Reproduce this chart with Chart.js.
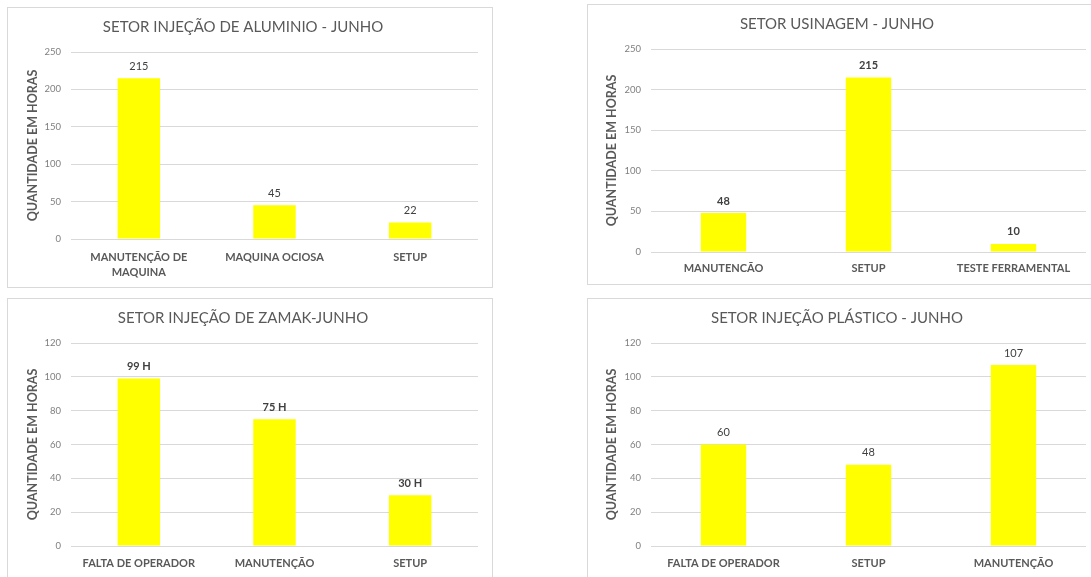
<!DOCTYPE html>
<html>
<head>
<meta charset="utf-8">
<script src="https://cdn.jsdelivr.net/npm/chart.js@4/dist/chart.umd.min.js"></script>
<style>
  html, body { margin: 0; padding: 0; background: #fff; overflow: hidden; }
  body { width: 1091px; height: 577px; position: relative; }
  .box { position: absolute; border: 1px solid #d9d9d9; box-sizing: border-box; }
  .box > div { position: absolute; left: 0; top: 0; right: 0; bottom: 0; }
</style>
</head>
<body>
<div class="box" style="left:7px; top:7px; width:486px; height:281px;"><div><canvas id="chartAluminio"></canvas></div></div>
<div class="box" style="left:587px; top:4px; width:510px; height:281px;"><div><canvas id="chartUsinagem"></canvas></div></div>
<div class="box" style="left:7px; top:298px; width:486px; height:281px;"><div><canvas id="chartZamak"></canvas></div></div>
<div class="box" style="left:587px; top:298px; width:510px; height:281px;"><div><canvas id="chartPlastico"></canvas></div></div>

<script>
// Horas paradas por setor - junho

const aluminioLabels = [['MANUTENÇÃO DE', 'MAQUINA'], 'MAQUINA OCIOSA', 'SETUP'];
const aluminioHoras = [215, 45, 22];
const aluminioTicks = [0, 50, 100, 150, 200, 250];

const usinagemLabels = ['MANUTENCÃO', 'SETUP', 'TESTE FERRAMENTAL'];
const usinagemHoras = [48, 215, 10];
const usinagemTicks = [0, 50, 100, 150, 200, 250];

const zamakLabels = ['FALTA DE OPERADOR', 'MANUTENÇÃO', 'SETUP'];
const zamakHoras = [99, 75, 30];
const zamakTicks = [0, 20, 40, 60, 80, 100, 120];

const plasticoLabels = ['FALTA DE OPERADOR', 'SETUP', 'MANUTENÇÃO'];
const plasticoHoras = [60, 48, 107];
const plasticoTicks = [0, 20, 40, 60, 80, 100, 120];

Chart.defaults.font.family = "Lato, 'Open Sans', sans-serif";

// draws the value above each bar
const valueLabels = {
    id: 'valueLabels',
    afterDatasetsDraw(chart, args, opts) {
        const ctx = chart.ctx;
        const meta = chart.getDatasetMeta(0);
        const values = chart.data.datasets[0].data;
        ctx.save();
        ctx.font = (opts.bold ? 'bold ' : '') + '11px Lato, sans-serif';
        ctx.fillStyle = '#404040';
        ctx.textAlign = 'center';
        ctx.textBaseline = 'middle';
        meta.data.forEach((bar, i) => {
            ctx.fillText(values[i] + (opts.suffix || ''), bar.x, bar.y - 12);
        });
        ctx.restore();
    }
};

function makeChart(id, title, labels, values, ticks, cfg) {
    const ctx = document.getElementById(id);
    return new Chart(ctx, {
        type: 'bar',
        data: {
            labels: labels,
            datasets: [{
                data: values,
                backgroundColor: '#ffff00',
                borderWidth: 0,
                barPercentage: 0.313,
                categoryPercentage: 1
            }]
        },
        options: {
            responsive: true,
            maintainAspectRatio: false,
            animation: false,
            layout: { padding: { left: 0, right: cfg.right, top: 0, bottom: 0 } },
            scales: {
                x: {
                    grid: { display: false, drawTicks: false },
                    border: { display: false },
                    ticks: {
                        color: '#595959',
                        padding: cfg.labelPad,
                        maxRotation: 0,
                        autoSkip: false,
                        font: { size: 11, weight: 'bold', lineHeight: 1.45 }
                    },
                    afterFit: scale => { scale.height = cfg.bottom; }
                },
                y: {
                    min: ticks[0],
                    max: ticks[ticks.length - 1],
                    ticks: {
                        stepSize: ticks[1] - ticks[0],
                        color: '#7f7f7f',
                        padding: 10,
                        font: { size: 9.5 }
                    },
                    grid: { color: '#d9d9d9', drawTicks: false },
                    border: { display: false },
                    title: {
                        display: true,
                        text: 'QUANTIDADE EM HORAS',
                        color: '#595959',
                        font: { size: 12.5, weight: 'bold' },
                        padding: { top: cfg.axisTitlePad, bottom: 0 }
                    },
                    afterFit: scale => { scale.width = 63; }
                }
            },
            plugins: {
                legend: { display: false },
                tooltip: { enabled: false },
                title: {
                    display: true,
                    text: title,
                    color: '#595959',
                    font: { size: 15, weight: 'normal', lineHeight: 1.2 },
                    padding: { top: 10, bottom: 16 }
                },
                valueLabels: { bold: cfg.bold, suffix: cfg.suffix }
            }
        },
        plugins: [valueLabels]
    });
}

makeChart('chartAluminio', 'SETOR INJEÇÃO DE ALUMINIO - JUNHO', aluminioLabels, aluminioHoras, aluminioTicks,
    { right: 14, bottom: 48, labelPad: 10, axisTitlePad: 17, bold: false, suffix: '' });
makeChart('chartUsinagem', 'SETOR USINAGEM - JUNHO', usinagemLabels, usinagemHoras, usinagemTicks,
    { right: 10, bottom: 32, labelPad: 8, axisTitlePad: 16, bold: true, suffix: '' });
makeChart('chartZamak', 'SETOR INJEÇÃO DE ZAMAK-JUNHO', zamakLabels, zamakHoras, zamakTicks,
    { right: 14, bottom: 32, labelPad: 9, axisTitlePad: 17, bold: true, suffix: ' H' });
makeChart('chartPlastico', 'SETOR INJEÇÃO PLÁSTICO - JUNHO', plasticoLabels, plasticoHoras, plasticoTicks,
    { right: 10, bottom: 32, labelPad: 9, axisTitlePad: 16, bold: false, suffix: '' });
</script>
</body>
</html>
